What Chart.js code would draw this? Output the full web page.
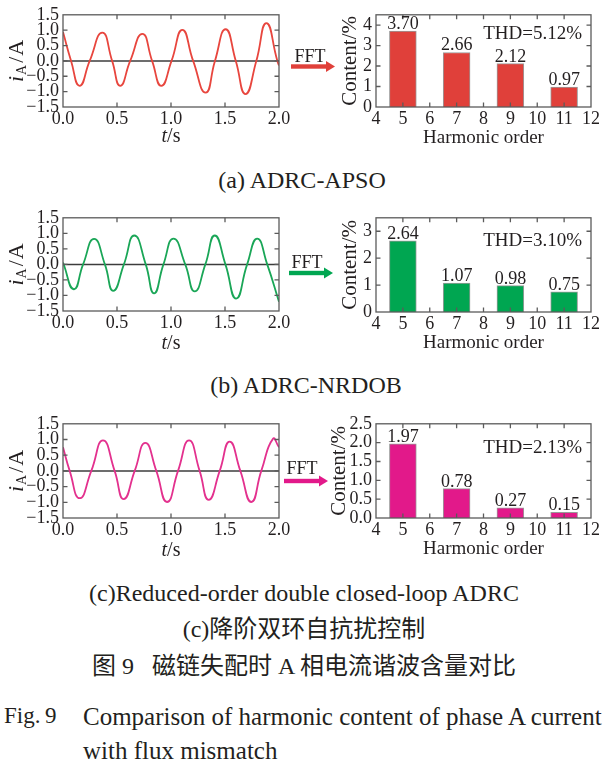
<!DOCTYPE html>
<html>
<head>
<meta charset="utf-8">
<script src="https://cdn.jsdelivr.net/npm/chart.js@4/dist/chart.umd.min.js"></script>
<style>
  html, body { margin: 0; padding: 0; background: #fff; }
  body { width: 605px; height: 768px; overflow: hidden; position: relative;
         font-family: "Liberation Serif", "Noto Sans CJK SC", serif; color: #231f20; }
  canvas { position: absolute; }
  .cap { position: absolute; white-space: nowrap; line-height: 1; font-size: 24px;
         transform: translate(-50%, -50%); }
  .line { position: absolute; white-space: nowrap; line-height: 1; font-size: 25px; }
  .fft { position: absolute; font-size: 18px; line-height: 1; transform: translate(-50%, -50%); }
  svg { position: absolute; overflow: visible; }
</style>
</head>
<body>

<canvas id="waveA"></canvas><canvas id="barA"></canvas>
<canvas id="waveB"></canvas><canvas id="barB"></canvas>
<canvas id="waveC"></canvas><canvas id="barC"></canvas>

<div class="cap" style="left:302px;top:180px">(a)&thinsp;ADRC-APSO</div>
<div class="cap" style="left:306px;top:385px">(b)&thinsp;ADRC-NRDOB</div>
<div class="cap" style="left:304px;top:593px">(c)Reduced-order double closed-loop ADRC</div>
<div class="cap" style="left:304px;top:629px">(c)降阶双环自抗扰控制</div>
<div class="cap" style="left:304px;top:666px">图 9&nbsp;&nbsp;&nbsp;磁链失配时 A 相电流谐波含量对比</div>
<div class="line" style="left:4px;top:704px;font-size:23px">Fig.&thinsp;9</div>
<div class="line" style="left:83px;top:704px">Comparison of harmonic content of phase A current</div>
<div class="line" style="left:83px;top:738px">with flux mismatch</div>

<script>
// ---- Phase-A current waveforms (time in s, current in A) ----
const timeAPSO = [0, 0.075, 0.154, 0.247, 0.364, 0.455, 0.53, 0.622, 0.735, 0.825, 0.91, 1.005,
                  1.105, 1.205, 1.321, 1.407, 1.506, 1.6, 1.69, 1.79, 1.883, 1.985, 2.0];
const currentAPSO = [0.94, 0, -0.81, 0, 0.92, 0, -0.81, 0, 0.88, 0, -0.81, 0,
                     1.01, 0, -1.03, 0, 1.03, 0, -1.08, 0, 1.23, 0, -0.15];

const timeNRDOB = [0, 0.1, 0.186, 0.288, 0.388, 0.465, 0.564, 0.66, 0.766, 0.843, 0.93,
                   1.023, 1.132, 1.219, 1.318, 1.405, 1.504, 1.603, 1.705, 1.798, 1.891, 2.0];
const currentNRDOB = [0.06, -0.8, 0, 0.82, 0, -0.85, 0, 0.93, 0, -0.93, 0,
                      0.83, 0, -0.87, 0, 0.93, 0, -1.1, 0, 0.83, 0, -1.2];

const timeReduced = [0, 0.062, 0.154, 0.262, 0.37, 0.478, 0.562, 0.664, 0.762, 0.864, 0.963,
                     1.065, 1.167, 1.265, 1.349, 1.451, 1.543, 1.642, 1.744, 1.836, 1.944, 2.0];
const currentReduced = [0.75, 0, -0.87, 0, 0.97, 0, -0.9, 0, 0.89, 0, -0.99,
                        0, 0.97, 0, -0.92, 0, 0.93, 0, -0.99, 0, 1.02, 0.75];

// ---- FFT harmonic content (%) ----
const harmonicOrders = [5, 7, 9, 11];
const contentAPSO = [3.70, 2.66, 2.12, 0.97];
const contentNRDOB = [2.64, 1.07, 0.98, 0.75];
const contentReduced = [1.97, 0.78, 0.27, 0.15];
const thdAPSO = 'THD=5.12%';
const thdNRDOB = 'THD=3.10%';
const thdReduced = 'THD=2.13%';

// ---- axis ranges / ticks ----
const timeTicks = [0, 2, 0.5];          // min, max, step
const currentTicks = [-1.5, 1.5, 0.5];
const orderTicks = [4, 12, 1];
const contentTicksA = [0, 4.5, 1];
const contentTicksB = [0, 3.5, 1];
const contentTicksC = [0, 2.5, 0.5];

const SERIF = '"Liberation Serif", serif';
const INK = '#231f20';
const FRAME = '#5b5b5b';

function runsWidth(ctx, runs) {
  let w = 0;
  runs.forEach(r => { ctx.font = r.font; w += ctx.measureText(r.t).width + (r.gap || 0); });
  return w;
}
function drawRuns(ctx, runs, cx, cy, rot) {
  ctx.save();
  ctx.translate(cx, cy);
  if (rot) ctx.rotate(-Math.PI / 2);
  ctx.fillStyle = INK;
  ctx.textBaseline = 'middle';
  ctx.textAlign = 'left';
  let x = -runsWidth(ctx, runs) / 2;
  runs.forEach(r => {
    ctx.font = r.font;
    ctx.fillText(r.t, x, r.dy || 0);
    x += ctx.measureText(r.t).width + (r.gap || 0);
  });
  ctx.restore();
}

// Box frame with inward ticks, zero line, titles, labels
const boxAxes = {
  id: 'boxAxes',
  beforeDatasetsDraw(chart, args, o) {
    if (!o.zeroLine) return;
    const ctx = chart.ctx, a = chart.chartArea;
    const y = chart.scales.y.getPixelForValue(0);
    ctx.save();
    ctx.strokeStyle = '#3c3c3c';
    ctx.lineWidth = 1.5;
    ctx.beginPath(); ctx.moveTo(a.left, y); ctx.lineTo(a.right, y); ctx.stroke();
    ctx.restore();
  },
  afterDatasetsDraw(chart, args, o) {
    const ctx = chart.ctx, a = chart.chartArea;
    const xs = chart.scales.x, ys = chart.scales.y;
    ctx.save();
    ctx.strokeStyle = FRAME;
    ctx.lineWidth = 1.3;
    ctx.strokeRect(a.left, a.top, a.right - a.left, a.bottom - a.top);
    const L = 4.5;
    ctx.beginPath();
    xs.ticks.forEach(t => {
      const p = xs.getPixelForValue(t.value);
      if (p <= a.left + 1 || p >= a.right - 1) return;
      ctx.moveTo(p, a.bottom); ctx.lineTo(p, a.bottom - L);
      ctx.moveTo(p, a.top); ctx.lineTo(p, a.top + L);
    });
    ys.ticks.forEach(t => {
      const p = ys.getPixelForValue(t.value);
      if (p <= a.top + 1 || p >= a.bottom - 1) return;
      ctx.moveTo(a.left, p); ctx.lineTo(a.left + L, p);
      ctx.moveTo(a.right, p); ctx.lineTo(a.right - L, p);
    });
    ctx.stroke();

    if (o.valueLabels) {
      const meta = chart.getDatasetMeta(0);
      const vals = chart.data.datasets[0].data;
      ctx.font = '18px ' + SERIF;
      ctx.fillStyle = INK;
      ctx.textAlign = 'center';
      ctx.textBaseline = 'alphabetic';
      meta.data.forEach((bar, i) => {
        ctx.fillText(vals[i].y.toFixed(2), bar.x, bar.y - 2);
      });
    }
    if (o.note) {
      ctx.font = '19px ' + SERIF;
      ctx.fillStyle = INK;
      ctx.textAlign = 'right';
      ctx.textBaseline = 'alphabetic';
      ctx.fillText(o.note, a.right - 9, a.top + o.noteDy);
    }
    ctx.restore();
  },
  afterDraw(chart, args, o) {
    const a = chart.chartArea, ctx = chart.ctx;
    if (o.yTitle) drawRuns(ctx, o.yTitle, o.yTitleX, (a.top + a.bottom) / 2, true);
    if (o.xTitle) drawRuns(ctx, o.xTitle, (a.left + a.right) / 2, a.bottom + o.xTitleDy, false);
  }
};

const tickFont = { family: SERIF, size: 18 };
const fmtSigned = v => v.toFixed(1).replace('-', '\u2212');

function place(id, left, top, w, h) {
  const c = document.getElementById(id);
  c.width = w; c.height = h;
  c.style.left = left + 'px'; c.style.top = top + 'px';
  c.style.width = w + 'px'; c.style.height = h + 'px';
  return c;
}

function waveChart(id, top, plotH, times, values, color, xTitleDy) {
  const W = 300, H = 14 + plotH + 43;
  const c = place(id, 0, top, W, H);
  return new Chart(c, {
    type: 'line',
    data: { datasets: [{
      data: times.map((t, i) => ({ x: t, y: values[i] })),
      borderColor: color, borderWidth: 1.8, pointRadius: 0,
      tension: 0.53, fill: false
    }] },
    options: {
      responsive: false, animation: false, devicePixelRatio: 1,
      layout: { padding: { top: 14, right: 21, left: 0, bottom: 0 } },
      plugins: {
        legend: { display: false }, tooltip: { enabled: false },
        boxAxes: {
          zeroLine: true,
          yTitleX: 17,
          yTitle: [
            { t: 'i', font: 'italic 22px ' + SERIF, gap: 1 },
            { t: 'A', font: '14px ' + SERIF, dy: 5, gap: 2 },
            { t: '/', font: '22px ' + SERIF, gap: 1 },
            { t: 'A', font: '22px ' + SERIF }
          ],
          xTitleDy: xTitleDy,
          xTitle: [
            { t: 't', font: 'italic 20px ' + SERIF },
            { t: '/s', font: '20px ' + SERIF }
          ]
        }
      },
      scales: {
        x: {
          type: 'linear', min: timeTicks[0], max: timeTicks[1],
          ticks: { stepSize: timeTicks[2], callback: v => v.toFixed(1), font: tickFont, color: INK,
                   padding: 1, maxRotation: 0, autoSkip: false, includeBounds: false },
          grid: { display: false, drawTicks: false }, border: { display: false },
          afterFit: s => { s.height = 43; }
        },
        y: {
          type: 'linear', min: currentTicks[0], max: currentTicks[1],
          ticks: { stepSize: currentTicks[2], callback: fmtSigned, font: tickFont, color: INK,
                   padding: 4, autoSkip: false, includeBounds: false },
          grid: { display: false, drawTicks: false }, border: { display: false },
          afterFit: s => { s.width = 63; }
        }
      }
    },
    plugins: [boxAxes]
  });
}

function barChart(id, top, plotH, values, yTicks, color, note, noteDy, yTitleX, decimals) {
  const W = 315, H = 14 + plotH + 43;
  const c = place(id, 290, top, W, H);
  return new Chart(c, {
    type: 'bar',
    data: { datasets: [{
      data: harmonicOrders.map((o, i) => ({ x: o, y: values[i] })),
      backgroundColor: color, borderColor: '#9a9a9a', borderWidth: 1,
      barPercentage: 1, categoryPercentage: 1
    }] },
    options: {
      responsive: false, animation: false, devicePixelRatio: 1,
      layout: { padding: { top: 14, right: 14, left: 0, bottom: 0 } },
      plugins: {
        legend: { display: false }, tooltip: { enabled: false },
        boxAxes: {
          valueLabels: true, note: note, noteDy: noteDy,
          yTitleX: yTitleX - 290,
          yTitle: [{ t: 'Content/%', font: '21px ' + SERIF }],
          xTitleDy: 31,
          xTitle: [{ t: 'Harmonic order', font: '19px ' + SERIF }]
        }
      },
      scales: {
        x: {
          type: 'linear', min: orderTicks[0], max: orderTicks[1], offset: false,
          ticks: { stepSize: orderTicks[2], font: tickFont, color: INK, padding: 1,
                   maxRotation: 0, autoSkip: false, includeBounds: false },
          grid: { display: false, drawTicks: false, offset: false }, border: { display: false },
          afterFit: s => { s.height = 43; }
        },
        y: {
          type: 'linear', min: yTicks[0], max: yTicks[1],
          ticks: { stepSize: yTicks[2], callback: v => v.toFixed(decimals), font: tickFont, color: INK,
                   padding: 4, autoSkip: false, includeBounds: false },
          grid: { display: false, drawTicks: false }, border: { display: false },
          afterFit: s => { s.width = 86; }
        }
      }
    },
    plugins: [boxAxes]
  });
}

waveChart('waveA', 0, 93, timeAPSO, currentAPSO, '#e8463e', 30);
waveChart('waveB', 203, 94, timeNRDOB, currentNRDOB, '#1aa657', 33);
waveChart('waveC', 409, 95, timeReduced, currentReduced, '#e3318e', 33);

barChart('barA', 0, 93, contentAPSO, contentTicksA, '#e0403a', thdAPSO, 24, 350, 0);
barChart('barB', 203, 95, contentNRDOB, contentTicksB, '#00a651', thdNRDOB, 28, 350, 0);
barChart('barC', 409, 95, contentReduced, contentTicksC, '#e2198a', thdReduced, 29, 339, 1);

// FFT arrows between the waveform and its spectrum
function fftArrow(label, cx, ty, x0, x1, ay, color) {
  const t = document.createElement('div');
  t.className = 'fft';
  t.textContent = label;
  t.style.left = cx + 'px'; t.style.top = ty + 'px';
  document.body.appendChild(t);
  const ns = 'http://www.w3.org/2000/svg';
  const svg = document.createElementNS(ns, 'svg');
  svg.setAttribute('width', 605); svg.setAttribute('height', 768);
  svg.style.left = '0px'; svg.style.top = '0px';
  const shaft = document.createElementNS(ns, 'rect');
  shaft.setAttribute('x', x0); shaft.setAttribute('y', ay - 2.2);
  shaft.setAttribute('width', x1 - x0 - 8); shaft.setAttribute('height', 4.4);
  shaft.setAttribute('fill', color);
  const head = document.createElementNS(ns, 'polygon');
  head.setAttribute('points', `${x1 - 9},${ay - 5.5} ${x1},${ay} ${x1 - 9},${ay + 5.5}`);
  head.setAttribute('fill', color);
  svg.appendChild(shaft); svg.appendChild(head);
  document.body.appendChild(svg);
}
fftArrow('FFT', 310, 56, 291, 335, 66.5, '#e0403a');
fftArrow('FFT', 307, 262, 289, 333, 273, '#00a651');
fftArrow('FFT', 302, 468, 284, 328, 481, '#e2198a');
</script>
</body>
</html>
